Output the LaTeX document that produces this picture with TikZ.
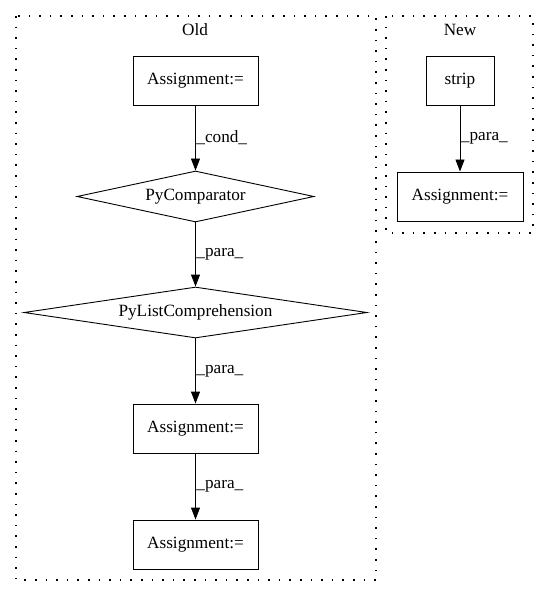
\documentclass[tikz,border=0pt]{standalone}
\usepackage{fontspec}
\setmainfont{Liberation Serif}
\usetikzlibrary{shapes.geometric,arrows.meta}
\begin{document}
\begin{tikzpicture}[x=1pt,y=-1pt,
  font=\fontsize{17.2pt}{19pt}\selectfont,
  box/.style={draw,line width=0.9pt,minimum height=49pt,inner sep=0pt},
  dia/.style={draw,diamond,line width=0.9pt,inner sep=0pt},
  cluster/.style={draw,line width=1.4pt,dash pattern=on 1.6pt off 9pt},
  edge/.style={draw,line width=0.9pt,-{Triangle[length=12pt,width=9pt]}},
  lab/.style={right,inner sep=0pt,xshift=0.5pt}]
\useasboundingbox (0,0) rectangle (549,596);
\draw[cluster] (16,16) rectangle (376,580);
\draw[cluster] (386,16) rectangle (533,233);
\node (old) at (195,30) {Old};
\node (new) at (460,30) {New};
\node[box,minimum width=125pt] (a1) at (195.5,80.5) {Assignment:=};
\node[dia,shape aspect=4.65,minimum width=237pt,minimum height=51pt] (pc) at (195.5,196.5) {PyComparator};
\node[dia,shape aspect=6.73,minimum width=343pt,minimum height=51pt] (plc) at (195.5,312.5) {PyListComprehension};
\node[box,minimum width=125pt] (a2) at (195.5,428.5) {Assignment:=};
\node[box,minimum width=125pt] (a3) at (195.5,544.5) {Assignment:=};
\node[box,minimum width=68pt] (st) at (460,80.5) {strip};
\node[box,minimum width=126pt] (an) at (460,196.5) {Assignment:=};
\draw[edge] (a1) -- node[lab] {\_cond\_} (pc);
\draw[edge] (pc) -- node[lab] {\_para\_} (plc);
\draw[edge] (plc) -- node[lab] {\_para\_} (a2);
\draw[edge] (a2) -- node[lab] {\_para\_} (a3);
\draw[edge] (st) -- node[lab] {\_para\_} (an);
\end{tikzpicture}
\end{document}
